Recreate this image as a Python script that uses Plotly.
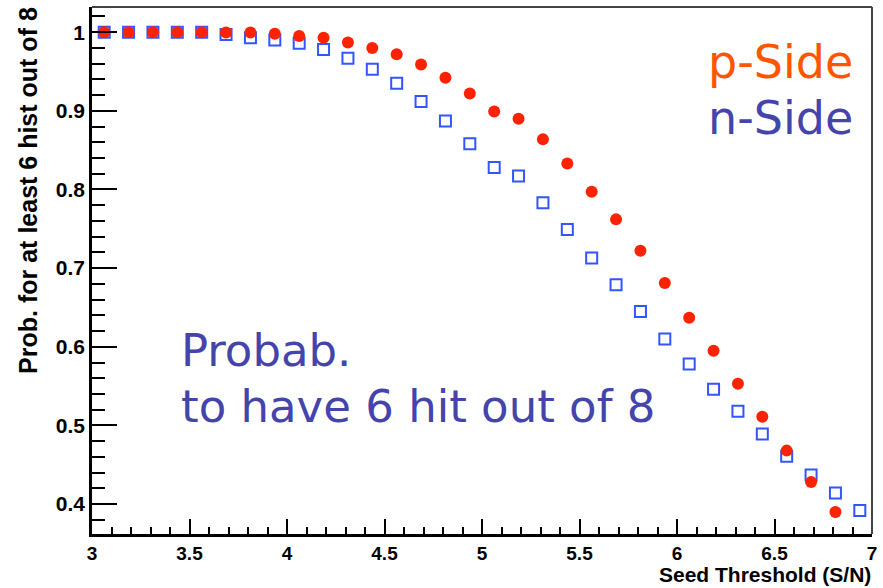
import plotly.graph_objects as go

x_p = [3.0625 + 0.125 * i for i in range(31)]
y_p = [1.0, 1.0, 1.0, 1.0, 1.0, 0.9995, 0.9995, 0.998, 0.995, 0.993,
       0.987, 0.980, 0.972, 0.959, 0.942, 0.922, 0.899, 0.890, 0.864, 0.833,
       0.797, 0.762, 0.722, 0.681, 0.637, 0.595, 0.553, 0.511, 0.468, 0.428,
       0.390]

x_n = [3.0625 + 0.125 * i for i in range(32)]
y_n = [1.0, 1.0, 1.0, 1.0, 1.0, 0.997, 0.993, 0.990, 0.986, 0.978,
       0.967, 0.953, 0.935, 0.912, 0.887, 0.858, 0.828, 0.817, 0.783, 0.749,
       0.713, 0.679, 0.645, 0.610, 0.578, 0.546, 0.518, 0.489, 0.461, 0.437,
       0.414, 0.392]

W, H = 883, 588
L, R, T, B = 92, 6, 7, 54
pw, ph = W - L - R, H - T - B

def px(xp):
    return (xp - L) / pw

def py(yp):
    return (H - B - yp) / ph

fig = go.Figure()
fig.add_trace(go.Scatter(x=x_n, y=y_n, mode="markers", name="n-Side",
                         marker=dict(symbol="square-open", size=11, color="#3355FF",
                                     line=dict(width=2, color="#3355FF"))))
fig.add_trace(go.Scatter(x=x_p, y=y_p, mode="markers", name="p-Side",
                         marker=dict(symbol="circle", size=12, color="#FF2200",
                                     line=dict(width=0))))

tickfont = dict(family="Liberation Sans", size=19, color="black", weight="bold")
fig.update_xaxes(range=[3, 7], dtick=0.5, tick0=3, showgrid=False, zeroline=False,
                 showline=True, linecolor="black", linewidth=2.5,
                 ticks="inside", ticklen=15, tickwidth=2, tickcolor="black",
                 minor=dict(ticks="inside", dtick=0.1, ticklen=7, tickwidth=2, tickcolor="black", showgrid=False),
                 tickfont=tickfont)
fig.update_yaxes(range=[0.362, 1.032], dtick=0.1, tick0=0, showgrid=False, zeroline=False,
                 showline=True, linecolor="black", linewidth=2.5,
                 ticks="inside", ticklen=25, tickwidth=2, tickcolor="black",
                 minor=dict(ticks="inside", dtick=0.02, ticklen=13, tickwidth=2, tickcolor="black", showgrid=False),
                 tickfont=dict(family="Liberation Sans", size=21, color="black", weight="bold"))

shapes = [
    dict(type="line", xref="paper", yref="paper", x0=0, x1=1, y0=1, y1=1,
         line=dict(color="#444444", width=2)),
    dict(type="line", xref="paper", yref="paper", x0=1, x1=1, y0=0, y1=1,
         line=dict(color="#444444", width=2)),
]

textfont = "DejaVu Sans"
ann = [
    dict(text="p-Side", x=px(860), y=py(62), xanchor="right", yanchor="middle",
         font=dict(family=textfont, size=46, color="#FF5500")),
    dict(text="n-Side", x=px(860), y=py(118), xanchor="right", yanchor="middle",
         font=dict(family=textfont, size=46, color="#4444AA")),
    dict(text="Probab.", x=px(180), y=py(350), xanchor="left", yanchor="middle",
         font=dict(family=textfont, size=45, color="#4444AA")),
    dict(text="to have 6 hit out of 8", x=px(180), y=py(406), xanchor="left", yanchor="middle",
         font=dict(family=textfont, size=45, color="#4444AA")),
    dict(text="Seed Threshold (S/N)", x=px(878), y=py(588), xanchor="right", yanchor="bottom",
         font=dict(family="Liberation Sans", size=21, color="black", weight="bold")),
    dict(text="Prob. for at least 6 hist out of 8", x=px(28), y=py(5), xanchor="center", yanchor="top",
         textangle=-90,
         font=dict(family="Liberation Sans", size=25, color="black", weight="bold")),
]
for a in ann:
    a.update(xref="paper", yref="paper", showarrow=False)

fig.update_layout(width=W, height=H, margin=dict(l=L, r=R, t=T, b=B),
                  plot_bgcolor="white", paper_bgcolor="white",
                  showlegend=False, shapes=shapes, annotations=ann)

fig.write_html("out.html")
